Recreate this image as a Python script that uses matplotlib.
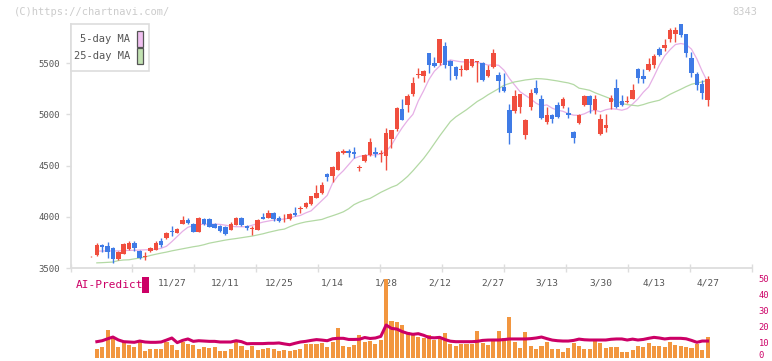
import numpy as np
import matplotlib
matplotlib.use("Agg")
import matplotlib.pyplot as plt
from matplotlib.patches import Rectangle
from matplotlib.transforms import ScaledTranslation

# --- data (trading days 11/6 .. 4/27) ---
opens = [3615, 3629, 3727, 3717, 3701, 3587, 3639, 3688, 3749, 3668,
         3610, 3668, 3678, 3766, 3791, 3863, 3847, 3934, 3973, 3928,
         3857, 3979, 3976, 3928, 3912, 3902, 3876, 3921, 3993, 3915,
         3886, 3876, 3996, 3993, 4042, 3993, 3976, 3976, 4041, 4074,
         4100, 4126, 4187, 4229, 4417, 4400, 4460, 4628, 4641, 4631,
         4479, 4544, 4602, 4631, 4609, 4596, 4758, 4855, 5050, 5089,
         5202, 5387, 5371, 5595, 5497, 5500, 5663, 5517, 5462, 5432,
         5429, 5471, 5510, 5504, 5371, 5462, 5380, 5267, 5040, 5030,
         5072, 4794, 5072, 5254, 5153, 4926, 4991, 5092, 5079, 5017,
         4826, 4917, 5089, 5176, 5040, 4807, 4868, 5121, 5261, 5131,
         5121, 5153, 5445, 5371, 5429, 5478, 5634, 5647, 5731, 5786,
         5877, 5780, 5553, 5397, 5293, 5137]
highs = [3617, 3749, 3740, 3753, 3711, 3668, 3746, 3762, 3766, 3678,
         3655, 3711, 3766, 3791, 3857, 3915, 3889, 4012, 3989, 3938,
         3996, 3986, 3986, 3938, 3921, 3915, 3954, 3999, 3999, 3921,
         3915, 3976, 4035, 4070, 4051, 4005, 4025, 4035, 4100, 4106,
         4148, 4207, 4310, 4336, 4424, 4498, 4641, 4667, 4667, 4677,
         4511, 4618, 4771, 4683, 4648, 4862, 4852, 5072, 5147, 5196,
         5364, 5455, 5436, 5598, 5556, 5737, 5705, 5527, 5471, 5478,
         5543, 5543, 5520, 5510, 5478, 5640, 5412, 5407, 5098, 5234,
         5202, 4953, 5244, 5332, 5186, 5072, 5007, 5124, 5169, 5069,
         4839, 5007, 5192, 5192, 5186, 5007, 5007, 5186, 5341, 5186,
         5176, 5299, 5452, 5445, 5549, 5591, 5656, 5737, 5844, 5851,
         5877, 5786, 5608, 5413, 5332, 5371]
lows = [3613, 3623, 3662, 3597, 3555, 3581, 3639, 3681, 3671, 3591,
        3578, 3662, 3675, 3711, 3785, 3817, 3840, 3928, 3934, 3850,
        3857, 3921, 3899, 3889, 3857, 3824, 3869, 3921, 3915, 3873,
        3824, 3873, 3976, 3986, 3961, 3954, 3954, 3970, 4012, 4035,
        4090, 4116, 4181, 4223, 4353, 4336, 4453, 4615, 4589, 4570,
        4450, 4537, 4596, 4580, 4537, 4456, 4674, 4836, 4940, 5024,
        5180, 5355, 5316, 5403, 5465, 5484, 5452, 5332, 5348, 5377,
        5429, 5462, 5316, 5322, 5364, 5455, 5218, 5218, 4712, 5017,
        5017, 4761, 5043, 5199, 4959, 4910, 4920, 4969, 5063, 4965,
        4722, 4904, 5082, 5017, 5007, 4797, 4829, 5050, 5066, 5082,
        5115, 5147, 5306, 5309, 5423, 5455, 5569, 5614, 5705, 5705,
        5754, 5559, 5364, 5241, 5154, 5082]
closes = [3619, 3727, 3707, 3662, 3587, 3655, 3736, 3749, 3694, 3597,
          3620, 3701, 3749, 3727, 3847, 3850, 3879, 3967, 3941, 3857,
          3986, 3928, 3905, 3895, 3863, 3831, 3928, 3993, 3921, 3895,
          3892, 3970, 3980, 4042, 3980, 3964, 3983, 4030, 4019, 4083,
          4132, 4200, 4229, 4310, 4391, 4489, 4631, 4641, 4628, 4615,
          4485, 4602, 4732, 4612, 4622, 4820, 4846, 5066, 4943, 5180,
          5303, 5397, 5420, 5484, 5468, 5731, 5484, 5471, 5374, 5439,
          5543, 5543, 5520, 5332, 5429, 5601, 5325, 5225, 4819, 5176,
          5195, 4943, 5212, 5212, 4965, 4998, 4959, 4972, 5153, 4994,
          4771, 4991, 5176, 5095, 5147, 4953, 4894, 5163, 5072, 5095,
          5131, 5234, 5355, 5348, 5488, 5565, 5575, 5672, 5818, 5818,
          5776, 5598, 5407, 5290, 5209, 5342]

ma5 = [np.nan, 3668, 3668, 3670, 3668, 3670, 3672, 3675, 3675, 3678,
       3680, 3682, 3684, 3695, 3715, 3760, 3810, 3860, 3900, 3915,
       3925, 3930, 3930, 3930, 3928, 3920, 3910, 3905, 3905, 3905,
       3920, 3935, 3950, 3960, 3970, 3975, 3980, 3990, 4005, 4015,
       4040, 4060, 4110, 4160, 4210, 4330, 4400, 4450, 4510, 4570,
       4590, 4600, 4602, 4605, 4612, 4640, 4700, 4790, 4870, 4940,
       5000, 5130, 5230, 5340, 5420, 5470, 5505, 5530, 5520, 5512,
       5510, 5508, 5505, 5495, 5480, 5482, 5478, 5430, 5350, 5285,
       5220, 5185, 5150, 5108, 5082, 5092, 5060, 5040, 5030, 5007,
       4992, 4990, 5005, 5030, 5040, 5025, 5045, 5055, 5050, 5040,
       5055, 5100, 5150, 5215, 5267, 5370, 5480, 5570, 5630, 5680,
       5690, 5680, 5635, 5540, 5420, 5316]
ma25 = [np.nan, 3553, 3555, 3558, 3561, 3575, 3581, 3583, 3592, 3600,
        3610, 3625, 3637, 3648, 3658, 3670, 3680, 3690, 3700, 3710,
        3718, 3730, 3745, 3755, 3765, 3775, 3783, 3790, 3798, 3806,
        3814, 3825, 3836, 3850, 3862, 3874, 3882, 3905, 3925, 3940,
        3952, 3960, 3968, 3976, 3995, 4012, 4030, 4050, 4080, 4120,
        4145, 4165, 4181, 4210, 4240, 4265, 4290, 4310, 4350, 4395,
        4450, 4510, 4570, 4640, 4715, 4790, 4860, 4930, 4975, 5010,
        5045, 5085, 5125, 5155, 5190, 5220, 5250, 5283, 5300, 5316,
        5325, 5335, 5341, 5348, 5346, 5341, 5333, 5325, 5315, 5306,
        5290, 5255, 5245, 5234, 5210, 5190, 5170, 5150, 5130, 5105,
        5095, 5088, 5082, 5095, 5112, 5125, 5137, 5165, 5195, 5220,
        5244, 5270, 5293, 5305, 5316, 5332]

volume = [np.nan, 5.6, 6.9, 17.5, 13.3, 6.9, 10.5, 8.1, 6.9, 9.8,
          4.4, 5.7, 5.7, 5.7, 9.7, 8.1, 5.1, 10.1, 8.8, 8.1,
          5.4, 6.8, 6.5, 6.8, 4.4, 4.4, 5.5, 9.7, 7.6, 5.1,
          7.4, 5.0, 5.6, 6.2, 5.4, 4.2, 5.1, 4.2, 5.2, 5.6,
          9.0, 9.0, 9.0, 9.4, 6.9, 9.8, 18.5, 7.5, 6.9, 8.1,
          14.4, 9.8, 10.6, 8.5, 11.3, 49.4, 23.1, 22.7, 20.6, 16.5,
          14.4, 13.3, 12.3, 14.4, 11.3, 13.3, 15.4, 8.5, 7.7, 8.5,
          8.5, 8.5, 16.9, 9.2, 8.1, 11.9, 16.9, 12.3, 25.8, 10.2,
          6.5, 16.5, 7.5, 5.6, 7.5, 9.8, 5.6, 5.6, 3.5, 6.5,
          9.2, 7.5, 5.4, 5.4, 10.6, 9.4, 6.2, 6.9, 6.9, 3.6,
          3.6, 5.0, 7.5, 6.9, 9.4, 7.5, 7.5, 6.9, 10.0, 8.1,
          7.5, 6.9, 6.2, 8.6, 5.0, 13.1]
ai_predict = [np.nan, 10.2, 10.8, 12.0, 13.1, 11.3, 10.2, 10.0, 9.8, 10.6,
              10.0, 9.8, 9.8, 10.0, 11.2, 12.5, 9.6, 11.0, 11.9, 10.4,
              10.8, 10.6, 10.4, 10.4, 10.0, 10.0, 10.0, 10.8, 10.2, 8.9,
              9.0, 9.0, 9.0, 9.2, 9.2, 9.4, 8.8, 8.3, 9.2, 10.0,
              10.4, 11.0, 11.5, 11.2, 10.8, 12.0, 12.3, 12.3, 11.6, 11.6,
              11.7, 12.8, 12.2, 12.5, 13.5, 20.6, 18.5, 18.1, 16.5, 15.4,
              14.8, 15.2, 14.2, 12.8, 12.6, 12.9, 11.5, 10.5, 10.2, 10.2,
              10.2, 10.2, 10.4, 11.0, 11.2, 11.25, 11.25, 11.5, 11.9, 11.9,
              11.9, 11.9, 12.1, 12.5, 13.1, 12.1, 11.2, 10.8, 10.6, 10.6,
              11.0, 11.8, 11.4, 11.25, 11.25, 11.25, 11.25, 11.7, 11.9, 11.9,
              11.25, 11.8, 11.25, 11.6, 12.3, 12.9, 12.5, 11.9, 12.3, 12.3,
              12.3, 12.0, 11.0, 9.8, 10.6, 10.6]

date_labels = ["11/27", "12/11", "12/25", "1/14", "1/28", "2/12",
               "2/27", "3/13", "3/30", "4/13", "4/27"]
label_index = [15, 25, 35, 45, 55, 65, 75, 85, 95, 105, 115]
price_ticks = [3500, 4000, 4500, 5000, 5500]
ai_ticks = [0, 10, 20, 30, 40, 50]

# --- style ---
W, H = 772, 361
RED, BLUE = "#f04e3e", "#3f7be6"
GRID = "#dddddd"
TXT = "#555555"
MAGENTA = "#cc0066"
MONO = "DejaVu Sans Mono"


def fx(px):
    return px / W


def fy(py):
    return 1 - py / H


fig = plt.figure(figsize=(W / 100, H / 100), dpi=100)
ax = fig.add_axes([fx(70.5), fy(268.3), (752.3 - 70.5) / W, (268.3 - 24) / H])
ax2 = fig.add_axes([fx(70.5), fy(358), (752.3 - 70.5) / W, 80 / H])

x = np.arange(len(closes))
o = np.array(opens, float)
c = np.array(closes, float)
up = c >= o
colors = np.where(up, RED, BLUE)

# candles: wick + body
ax.vlines(x, lows, highs, colors=colors, linewidth=1, zorder=3)
body_low = np.minimum(o, c)
body_h = np.maximum(np.abs(c - o), 9)
ax.bar(x, body_h, bottom=body_low, width=0.85, color=colors, linewidth=0, zorder=4)

# moving averages
ax.plot(x, ma5, color="#e6afe6", linewidth=0.9, zorder=2)
ax.plot(x, ma25, color="#b3d9a4", linewidth=0.9, zorder=2)

xlo, xhi = -3.92, 123.35
ax.set_xlim(xlo, xhi)
ax.set_ylim(3500, 5880)

for side in ["top", "right"]:
    ax.spines[side].set_visible(False)
for side in ["left", "bottom"]:
    ax.spines[side].set_color(GRID)
    ax.spines[side].set_linewidth(1.3)

ax.set_yticks(price_ticks)
ax.set_yticklabels([str(v) for v in price_ticks], family=MONO, fontsize=6.5, color=TXT)
ax.tick_params(axis="y", length=3.8, width=1, color=GRID, pad=4)

ax.set_xticks(np.linspace(xlo, xhi, 12))
ax.set_xticklabels([])
ax.tick_params(axis="x", direction="inout", length=6, width=1, color=GRID)

for i, lab in zip(label_index, date_labels):
    ax.text(i, -0.06, lab, transform=ax.get_xaxis_transform(), ha="center",
            va="center", family=MONO, fontsize=6.8, color=TXT, zorder=1)

# lower panel: AI-Predict
ax2.bar(x, volume, width=0.75, color="#f2963f", linewidth=0, zorder=2, clip_on=False)
ax2.plot(x, ai_predict, color=MAGENTA, linewidth=2.2, zorder=3)
ax2.set_xlim(xlo, xhi)
ax2.set_ylim(0, 50)
ax2.set_xticks([])
ax2.yaxis.tick_right()
ax2.set_yticks(ai_ticks)
ax2.set_yticklabels([str(v) for v in ai_ticks], family=MONO, fontsize=6.3, color=MAGENTA)
ax2.tick_params(axis="y", length=0, pad=4.5)
for s in ax2.spines.values():
    s.set_visible(False)
ax2.patch.set_alpha(0)
# keep the "0" label inside the picture
zero_lab = ax2.get_yticklabels()[0]
zero_lab.set_transform(zero_lab.get_transform() + ScaledTranslation(0, 2.5 / 72, fig.dpi_scale_trans))

fig.text(fx(76), fy(285), "AI-Predict", family=MONO, fontsize=8, color=MAGENTA,
         ha="left", va="center")
fig.add_artist(Rectangle((fx(142), fy(293)), 6.5 / W, 16 / H, transform=fig.transFigure,
                         facecolor=MAGENTA, edgecolor="none"))

# legend box
fig.add_artist(Rectangle((fx(70.5), fy(71)), 78 / W, 47 / H, transform=fig.transFigure,
                         facecolor="white", edgecolor=GRID, linewidth=1.2, zorder=5))
for py, name, col in [(39, "5-day MA", "#f0c0f0"), (56, "25-day MA", "#c2e2b2")]:
    fig.text(fx(130), fy(py), name, family=MONO, fontsize=7.5, color=TXT,
             ha="right", va="center", zorder=6)
    fig.add_artist(Rectangle((fx(136.5), fy(py + 7.5)), 6 / W, 15 / H,
                             transform=fig.transFigure, facecolor=col,
                             edgecolor="#555555", linewidth=0.9, zorder=6))

# watermark and code
fig.text(fx(14), fy(12), "(C)https://chartnavi.com/", family=MONO, fontsize=7.5,
         color="#cccccc", ha="left", va="center")
fig.text(fx(757), fy(12), "8343", family=MONO, fontsize=7.5, color="#cccccc",
         ha="right", va="center")

fig.savefig("out.png", dpi=100, facecolor="white")
